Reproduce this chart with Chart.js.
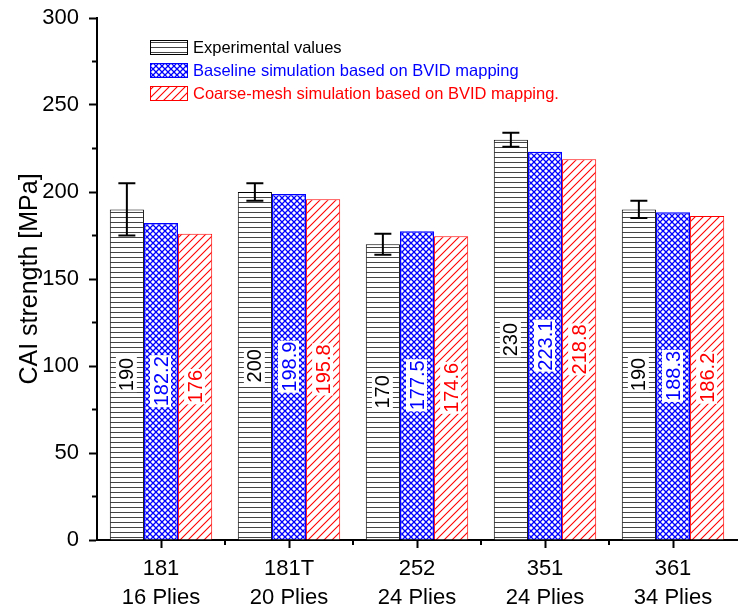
<!DOCTYPE html>
<html>
<head>
<meta charset="utf-8">
<script src="https://cdn.jsdelivr.net/npm/chart.js@4/dist/chart.umd.min.js"></script>
<style>
  html, body { margin: 0; padding: 0; background: #fff; }
  #wrap { width: 738px; height: 608px; position: relative; }
</style>
</head>
<body>
<div id="wrap"><canvas id="c" width="738" height="608"></canvas></div>
<script>
const categories = [['181', '16 Plies'], ['181T', '20 Plies'], ['252', '24 Plies'], ['351', '24 Plies'], ['361', '34 Plies']];
const seriesNames = ['Experimental values', 'Baseline simulation based on BVID mapping', 'Coarse-mesh simulation based on BVID mapping.'];
const experimental = [190, 200, 170, 230, 190];
const experimentalError = [15, 5, 6, 4, 5];
const baseline = [182.2, 198.9, 177.5, 223.1, 188.3];
const coarse = [176, 195.8, 174.6, 218.8, 186.2];
const yTicks = [0, 50, 100, 150, 200, 250, 300];

const FONT = "'Liberation Sans', Arial, sans-serif";

function makePattern(kind) {
  const c = document.createElement('canvas');
  const ctx = c.getContext('2d');
  if (kind === 'h') {
    c.width = 6; c.height = 5;
    ctx.fillStyle = '#fff'; ctx.fillRect(0, 0, 6, 5);
    ctx.fillStyle = '#444'; ctx.fillRect(0, 2, 6, 1);
  } else if (kind === 'x') {
    c.width = 6; c.height = 6;
    ctx.fillStyle = '#fff'; ctx.fillRect(0, 0, 6, 6);
    ctx.strokeStyle = '#0000ff'; ctx.lineWidth = 1.3;
    ctx.beginPath();
    ctx.moveTo(0, 0); ctx.lineTo(6, 6);
    ctx.moveTo(6, 0); ctx.lineTo(0, 6);
    ctx.stroke();
  } else {
    c.width = 8; c.height = 8;
    ctx.fillStyle = '#fff'; ctx.fillRect(0, 0, 8, 8);
    ctx.strokeStyle = '#ff0000'; ctx.lineWidth = 1.1;
    ctx.beginPath();
    ctx.moveTo(-1, 9); ctx.lineTo(9, -1);
    ctx.moveTo(-1, 1); ctx.lineTo(1, -1);
    ctx.moveTo(7, 9); ctx.lineTo(9, 7);
    ctx.stroke();
  }
  return document.createElement('canvas').getContext('2d').createPattern(c, 'repeat');
}

const patterns = [makePattern('h'), makePattern('x'), makePattern('d')];
const borderColors = ['#000000', '#0000ff', '#ff0000'];
const textColors = ['#000000', '#0000ff', '#ff0000'];

const overlayPlugin = {
  id: 'overlay',
  afterDatasetsDraw(chart) {
    const ctx = chart.ctx;
    const yScale = chart.scales.y;
    const xScale = chart.scales.x;
    // error bars on experimental
    const meta0 = chart.getDatasetMeta(0);
    ctx.save();
    ctx.strokeStyle = '#000';
    ctx.lineWidth = 2;
    meta0.data.forEach((bar, i) => {
      const v = experimental[i], e = experimentalError[i];
      const yt = yScale.getPixelForValue(v + e);
      const yb = yScale.getPixelForValue(v - e);
      ctx.beginPath();
      ctx.moveTo(bar.x, yt); ctx.lineTo(bar.x, yb);
      ctx.moveTo(bar.x - 8.5, yt); ctx.lineTo(bar.x + 8.5, yt);
      ctx.moveTo(bar.x - 8.5, yb); ctx.lineTo(bar.x + 8.5, yb);
      ctx.stroke();
    });
    ctx.restore();
    // value labels
    chart.data.datasets.forEach((ds, di) => {
      const meta = chart.getDatasetMeta(di);
      meta.data.forEach((bar, i) => {
        const txt = String(ds.data[i]);
        const cy = (bar.y + bar.base) / 2;
        ctx.save();
        ctx.translate(bar.x, cy);
        ctx.rotate(-Math.PI / 2);
        ctx.font = '20px ' + FONT;
        const w = ctx.measureText(txt).width;
        ctx.fillStyle = '#fff';
        ctx.fillRect(-w / 2 - 1, -11, w + 2, 21);
        ctx.fillStyle = textColors[di];
        ctx.textAlign = 'center';
        ctx.textBaseline = 'middle';
        ctx.fillText(txt, 0, 1);
        ctx.restore();
      });
    });
    // minor ticks
    ctx.save();
    ctx.strokeStyle = '#000';
    ctx.lineWidth = 2;
    for (let k = 0; k < yTicks.length - 1; k++) {
      const yp = yScale.getPixelForValue((yTicks[k] + yTicks[k + 1]) / 2);
      ctx.beginPath();
      ctx.moveTo(chart.chartArea.left - 5, yp); ctx.lineTo(chart.chartArea.left, yp);
      ctx.stroke();
    }
    for (let i = 0; i < categories.length - 1; i++) {
      const xp = (xScale.getPixelForValue(i) + xScale.getPixelForValue(i + 1)) / 2;
      ctx.beginPath();
      ctx.moveTo(xp, chart.chartArea.bottom); ctx.lineTo(xp, chart.chartArea.bottom + 5);
      ctx.stroke();
    }
    ctx.restore();
    // legend
    ctx.save();
    const lx = chart.chartArea.left + 53;
    const ly = chart.chartArea.top + 22;
    seriesNames.forEach((name, di) => {
      const y = ly + di * 23;
      ctx.fillStyle = patterns[di];
      ctx.fillRect(lx, y, 38, 15);
      ctx.strokeStyle = borderColors[di];
      ctx.lineWidth = 1;
      ctx.strokeRect(lx + 0.5, y + 0.5, 37, 14);
      ctx.fillStyle = textColors[di];
      ctx.font = '16.5px ' + FONT;
      ctx.textBaseline = 'middle';
      ctx.textAlign = 'left';
      ctx.fillText(name, lx + 43, y + 8);
    });
    ctx.restore();
  }
};

new Chart(document.getElementById('c'), {
  type: 'bar',
  data: {
    labels: categories,
    datasets: [
      { label: seriesNames[0], data: experimental, backgroundColor: patterns[0], borderColor: borderColors[0], borderWidth: 1 },
      { label: seriesNames[1], data: baseline, backgroundColor: patterns[1], borderColor: borderColors[1], borderWidth: 1.5 },
      { label: seriesNames[2], data: coarse, backgroundColor: patterns[2], borderColor: borderColors[2], borderWidth: 1 }
    ]
  },
  options: {
    responsive: false,
    animation: false,
    devicePixelRatio: 1,
    layout: { padding: { top: 18, right: 1, left: 0, bottom: 0 } },
    datasets: { bar: { categoryPercentage: 0.8, barPercentage: 1.0 } },
    plugins: { legend: { display: false }, tooltip: { enabled: false } },
    scales: {
      x: {
        grid: { display: true, drawOnChartArea: false, offset: false, tickLength: 8, tickWidth: 2, tickColor: '#000' },
        border: { display: true, color: '#000', width: 2 },
        ticks: { color: '#000', font: { family: FONT, size: 22, lineHeight: 1.3 }, padding: 7, maxRotation: 0, autoSkip: false },
        afterFit(s) { s.height = 68; }
      },
      y: {
        min: 0, max: 300,
        afterBuildTicks(s) { s.ticks = yTicks.map(v => ({ value: v })); },
        grid: { display: true, drawOnChartArea: false, tickLength: 8, tickWidth: 2, tickColor: '#000' },
        border: { display: true, color: '#000', width: 2 },
        ticks: { color: '#000', font: { family: FONT, size: 22 }, padding: 10 },
        title: { display: true, text: 'CAI strength [MPa]', color: '#000', font: { family: FONT, size: 25 }, padding: { top: 15, bottom: 4 } },
        afterFit(s) { s.width = 97; s.paddingTop = 0; s.paddingBottom = 0; }
      }
    }
  },
  plugins: [overlayPlugin]
});
</script>
</body>
</html>
